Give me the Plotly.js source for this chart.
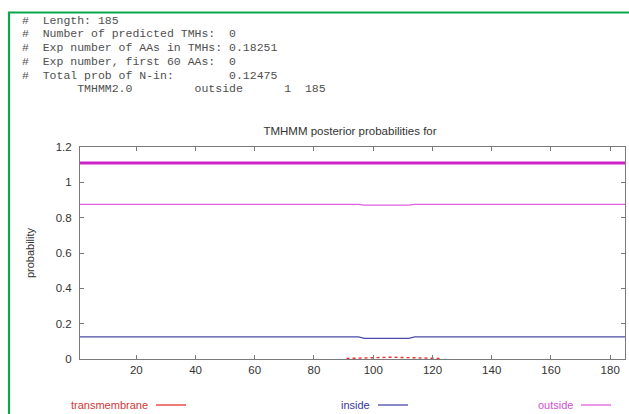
<!DOCTYPE html>
<html>
<head>
<meta charset="utf-8">
<script src="https://cdn.plot.ly/plotly-3.0.1.min.js"></script>
<style>
  html, body { margin: 0; padding: 0; background: #ffffff; }
  #chart { width: 629px; height: 414px; }
</style>
</head>
<body>
<div id="chart"></div>
<script>
// ---- data ----
const headerLines = [
  "#  Length: 185",
  "#  Number of predicted TMHs:  0",
  "#  Exp number of AAs in TMHs: 0.18251",
  "#  Exp number, first 60 AAs:  0",
  "#  Total prob of N-in:        0.12475",
  "        TMHMM2.0         outside      1  185"
];
const chartTitle = "TMHMM posterior probabilities for";
const yTitle = "probability";
const xTickVals = [20, 40, 60, 80, 100, 120, 140, 160, 180];
const yTickVals = [0, 0.2, 0.4, 0.6, 0.8, 1, 1.2];

const topologyX = [1, 185];
const topologyY = [1.11, 1.11];

const insideX = [1, 95, 97, 112, 114, 185];
const insideY = [0.1248, 0.1248, 0.1165, 0.1165, 0.1248, 0.1248];

const outsideX = [1, 95, 97, 112, 114, 185];
const outsideY = [0.8752, 0.8752, 0.8705, 0.8705, 0.8752, 0.8752];

const tmX = [91, 93, 95, 97, 100, 103, 106, 109, 112, 115, 118, 121, 123];
const tmY = [0.003, 0.004, 0.006, 0.008, 0.009, 0.01, 0.01, 0.009, 0.008, 0.006, 0.005, 0.004, 0.003];

const legendNames = ["transmembrane", "inside", "outside"];
const colTM = "#e83030", colIn = "#4a4aa8", colOut = "#e060e0", colTop = "#cc22c8";
const legendText = ["#d03838", "#3838a0", "#d050d0"];
const legendLine = [colTM, colIn, colOut];

// ---- layout helpers (pixel -> paper) ----
const L = 80, R = 625, T = 147, B = 359;
const px = x => (x - L) / (R - L);
const py = y => (B - y) / (B - T);

const traces = [
  { x: topologyX, y: topologyY, mode: "lines", line: { color: colTop, width: 3 }, showlegend: false, hoverinfo: "skip" },
  { x: outsideX, y: outsideY, mode: "lines", name: "outside", line: { color: colOut, width: 1.3 }, showlegend: false },
  { x: insideX, y: insideY, mode: "lines", name: "inside", line: { color: colIn, width: 1.3 }, showlegend: false },
  { x: tmX, y: tmY, mode: "lines", name: "transmembrane", line: { color: colTM, width: 1.4, dash: "dot" }, showlegend: false }
];

const headerY = [20, 33.8, 47.6, 61.4, 75.2, 89];
const annotations = headerLines.map((t, i) => ({
  xref: "paper", yref: "paper", x: px(20), y: py(headerY[i]),
  xanchor: "left", yanchor: "middle", showarrow: false,
  text: t.replace(/ /g, "\u00a0"),
  font: { family: "Liberation Mono, Courier New, monospace", size: 11.5, color: "#505050" }
}));

const legTextRight = [150, 372, 575];
const legLineStart = [156, 378, 581];
const legY = 405;
const shapes = [
  { type: "path", xref: "paper", yref: "paper",
    path: `M ${px(9)} ${py(430)} L ${px(9)} ${py(12.5)} L ${px(640)} ${py(12.5)}`,
    line: { color: "#0aa84a", width: 2.2 } }
];
legendNames.forEach((n, i) => {
  annotations.push({
    xref: "paper", yref: "paper", x: px(legTextRight[i]), y: py(legY),
    xanchor: "right", yanchor: "middle", showarrow: false, text: n,
    font: { family: "Liberation Sans, Arial, sans-serif", size: 11, color: legendText[i] }
  });
  shapes.push({
    type: "line", xref: "paper", yref: "paper",
    x0: px(legLineStart[i]), x1: px(legLineStart[i] + 30), y0: py(legY), y1: py(legY),
    line: { color: legendLine[i], width: 1.3 }
  });
});

const axisCommon = {
  showline: true, linecolor: "#7a7a7a", linewidth: 1, mirror: "ticks",
  ticks: "inside", ticklen: 4, tickcolor: "#7a7a7a", tickwidth: 1,
  showgrid: false, zeroline: false, fixedrange: true,
  tickfont: { family: "Liberation Sans, Arial, sans-serif", size: 11.5, color: "#333" }
};

const layout = {
  width: 629, height: 414,
  margin: { l: L, r: 629 - R, t: T, b: 414 - B, pad: 0 },
  paper_bgcolor: "#ffffff", plot_bgcolor: "#ffffff",
  showlegend: false,
  title: {
    text: chartTitle, x: px(350), xref: "paper", xanchor: "center",
    y: 1 - 131 / 414, yref: "container", yanchor: "middle",
    font: { family: "Liberation Sans, Arial, sans-serif", size: 11.5, color: "#333" }
  },
  xaxis: Object.assign({}, axisCommon, {
    range: [1, 185], tickvals: xTickVals, ticktext: xTickVals.map(String)
  }),
  yaxis: Object.assign({}, axisCommon, {
    range: [0, 1.2], tickvals: yTickVals, ticktext: yTickVals.map(String),
    ticklabelstandoff: 5,
    title: { text: yTitle, standoff: 18, font: { family: "Liberation Sans, Arial, sans-serif", size: 11, color: "#333" } }
  }),
  annotations: annotations,
  shapes: shapes
};

Plotly.newPlot("chart", traces, layout, { displayModeBar: false, staticPlot: true });
</script>
</body>
</html>
